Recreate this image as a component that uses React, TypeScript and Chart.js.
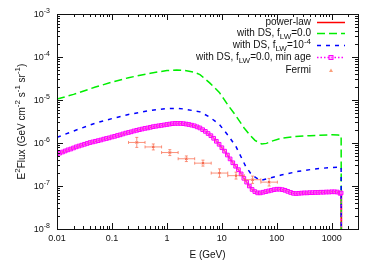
import React, { useEffect, useRef } from 'react';
import { Chart, registerables } from 'chart.js';
Chart.register(...registerables);

// ---- data ----
const minAgeE = [
  0.01, 0.0112, 0.0126, 0.0141, 0.0158, 0.0178, 0.02, 0.0224, 0.0251, 0.0282, 0.0316, 0.0355, 0.0398, 0.0447, 0.0501, 0.0562, 0.0631, 0.0708, 0.0794, 0.0891,
  0.1, 0.112, 0.126, 0.141, 0.158, 0.178, 0.2, 0.224, 0.251, 0.282, 0.316, 0.355, 0.398, 0.447, 0.501, 0.562, 0.631, 0.708, 0.794, 0.891,
  1, 1.12, 1.26, 1.41, 1.58, 1.78, 2, 2.24, 2.51, 2.82, 3.16, 3.55, 3.98, 4.47, 5.01, 5.62, 6.31, 7.08, 7.94, 8.91,
  10, 11.2, 12.6, 14.1, 15.8, 17.8, 20, 22.4, 25.1, 28.2, 31.6, 35.5, 39.8, 44.7, 50.1, 56.2, 63.1, 70.8, 79.4, 89.1,
  100, 112, 126, 141, 158, 178, 200, 224, 251, 282, 316, 355, 398, 447, 501, 562, 631, 708, 794, 891,
  1000, 1122, 1259, 1413, 1480, 1500,
];
const minAgeF = [
  5.5e-7, 5.82e-7, 6.17e-7, 6.53e-7, 6.92e-7, 7.24e-7, 7.67e-7, 8.13e-7, 8.51e-7, 8.91e-7,
  9.33e-7, 9.77e-7, 1.023e-6, 1.059e-6, 1.096e-6, 1.135e-6, 1.175e-6, 1.23e-6, 1.274e-6, 1.318e-6,
  1.38e-6, 1.429e-6, 1.496e-6, 1.549e-6, 1.622e-6, 1.698e-6, 1.758e-6, 1.82e-6, 1.905e-6, 1.972e-6,
  2.042e-6, 2.113e-6, 2.188e-6, 2.239e-6, 2.317e-6, 2.399e-6, 2.455e-6, 2.512e-6, 2.57e-6, 2.63e-6,
  2.692e-6, 2.754e-6, 2.818e-6, 2.851e-6, 2.851e-6, 2.851e-6, 2.818e-6, 2.754e-6, 2.692e-6, 2.6e-6,
  2.512e-6, 2.371e-6, 2.239e-6, 2.042e-6, 1.862e-6, 1.66e-6, 1.479e-6, 1.288e-6, 1.096e-6, 9.33e-7,
  7.76e-7, 6.46e-7, 5.25e-7, 4.27e-7, 3.47e-7, 2.88e-7, 2.4e-7, 1.91e-7, 1.51e-7, 1.23e-7,
  1.0e-7, 8.32e-8, 7.41e-8, 6.92e-8, 6.92e-8, 7.16e-8, 7.41e-8, 7.67e-8, 7.94e-8, 8.22e-8,
  8.41e-8, 8.41e-8, 8.22e-8, 7.94e-8, 7.5e-8, 7.08e-8, 6.76e-8, 6.68e-8, 6.76e-8, 6.84e-8,
  6.92e-8, 6.92e-8, 7.0e-8, 7.0e-8, 7.08e-8, 7.08e-8, 7.16e-8, 7.16e-8, 7.24e-8, 7.24e-8,
  7.33e-8, 7.33e-8, 7.24e-8, 6.76e-8, 6.9e-8, 1e-10,
];
const powerLawF = minAgeF;

const fLW0E = [0.01, 0.02, 0.05, 0.1, 0.2, 0.5, 1, 1.5, 2, 3, 4, 6, 9, 13, 18, 25, 32, 40, 53, 65, 80, 123, 200, 400, 1000, 1300, 1480, 1500];
const fLW0F = [1.05e-5, 1.35e-5, 2.0e-5, 2.6e-5, 3.3e-5, 4.2e-5, 4.85e-5, 5.0e-5, 4.9e-5, 4.5e-5, 3.9e-5, 2.5e-5, 1.5e-5, 7.5e-6, 4.3e-6, 2.3e-6, 1.55e-6, 1.15e-6, 9.5e-7, 9.8e-7, 1.1e-6, 1.3e-6, 1.4e-6, 1.48e-6, 1.55e-6, 1.54e-6, 1.5e-6, 1e-10];

const fLW4E = [0.01, 0.02, 0.05, 0.1, 0.2, 0.5, 1, 1.5, 2, 4, 6, 9, 13, 18, 27, 35, 50, 70, 120, 250, 500, 1000, 1480, 1500];
const fLW4F = [1.35e-6, 1.9e-6, 2.9e-6, 3.7e-6, 4.6e-6, 5.7e-6, 6.3e-6, 6.4e-6, 6.2e-6, 5.3e-6, 4.0e-6, 2.7e-6, 1.5e-6, 8.3e-7, 2.9e-7, 1.8e-7, 1.35e-7, 1.5e-7, 1.8e-7, 2.2e-7, 2.5e-7, 2.7e-7, 2.75e-7, 1e-10];

const fermiE = [0.283, 0.566, 1.13, 2.26, 4.53, 9.05, 18.1, 36.2, 72.4];
const fermiElo = [0.2, 0.4, 0.8, 1.6, 3.2, 6.4, 12.8, 25.6, 51.2];
const fermiEhi = [0.4, 0.8, 1.6, 3.2, 6.4, 12.8, 25.6, 51.2, 102.4];
const fermiF = [1.03e-6, 8.1e-7, 6.0e-7, 4.3e-7, 3.4e-7, 2.0e-7, 1.74e-7, 1.4e-7, 1.23e-7];
const fermiFlo = [7.9e-7, 6.9e-7, 5.1e-7, 3.7e-7, 2.9e-7, 1.6e-7, 1.45e-7, 1.15e-7, 1.0e-7];
const fermiFhi = [1.35e-6, 9.5e-7, 7.0e-7, 5.0e-7, 4.0e-7, 2.5e-7, 2.1e-7, 1.7e-7, 1.5e-7];

const xTickValues = [0.01, 0.1, 1, 10, 100, 1000];
const xTickLabels = ['0.01', '0.1', '1', '10', '100', '1000'];
const yTickExps = ['-8', '-7', '-6', '-5', '-4', '-3'];

const FAM = '"Liberation Sans", Arial, Helvetica, sans-serif';
const font = (s: number) => `${s}px ${FAM}`;

type Seg = { t: string; s?: 'sup' | 'sub' };

function segWidth(ctx: CanvasRenderingContext2D, segs: Seg[], size: number, small: number) {
  let w = 0;
  for (const g of segs) {
    ctx.font = font(g.s ? small : size);
    w += ctx.measureText(g.t).width;
  }
  return w;
}

function drawRich(ctx: CanvasRenderingContext2D, segs: Seg[], x: number, y: number, size: number, small: number, align: 'left' | 'right' | 'center') {
  const w = segWidth(ctx, segs, size, small);
  let cx = align === 'left' ? x : align === 'right' ? x - w : x - w / 2;
  ctx.textAlign = 'left';
  ctx.textBaseline = 'middle';
  for (const g of segs) {
    ctx.font = font(g.s ? small : size);
    const dy = g.s === 'sup' ? -size * 0.4 : g.s === 'sub' ? size * 0.32 : 0;
    ctx.fillText(g.t, cx, y + dy);
    cx += ctx.measureText(g.t).width;
  }
}

const decor = {
  id: 'decor',
  afterDatasetsDraw(chart: any) {
    const ctx: CanvasRenderingContext2D = chart.ctx;
    const xs = chart.scales.x;
    const ys = chart.scales.y;
    ctx.save();
    ctx.strokeStyle = 'rgba(250,110,80,0.75)';
    ctx.lineWidth = 1;
    for (let i = 0; i < fermiE.length; i++) {
      const px = xs.getPixelForValue(fermiE[i]);
      const py = ys.getPixelForValue(fermiF[i]);
      const x0 = xs.getPixelForValue(fermiElo[i]);
      const x1 = xs.getPixelForValue(fermiEhi[i]);
      const y0 = ys.getPixelForValue(fermiFlo[i]);
      const y1 = ys.getPixelForValue(fermiFhi[i]);
      ctx.beginPath();
      ctx.moveTo(x0, py); ctx.lineTo(x1, py);
      ctx.moveTo(px, y0); ctx.lineTo(px, y1);
      ctx.moveTo(x0, py - 1.5); ctx.lineTo(x0, py + 1.5);
      ctx.moveTo(x1, py - 1.5); ctx.lineTo(x1, py + 1.5);
      ctx.moveTo(px - 1.5, y0); ctx.lineTo(px + 1.5, y0);
      ctx.moveTo(px - 1.5, y1); ctx.lineTo(px + 1.5, y1);
      ctx.stroke();
    }
    ctx.restore();
  },
  afterDraw(chart: any) {
    const ctx: CanvasRenderingContext2D = chart.ctx;
    const xs = chart.scales.x;
    const ys = chart.scales.y;
    const a = chart.chartArea;
    ctx.save();
    // border
    ctx.strokeStyle = '#111';
    ctx.lineWidth = 1;
    ctx.strokeRect(Math.round(a.left) + 0.5, Math.round(a.top) + 0.5, Math.round(a.right - a.left), Math.round(a.bottom - a.top));
    // ticks
    ctx.beginPath();
    for (let d = -2; d <= 3; d++) {
      for (let m = 1; m <= 9; m++) {
        const v = m * Math.pow(10, d);
        if (v > 3000) continue;
        const px = Math.round(xs.getPixelForValue(v)) + 0.5;
        const len = m === 1 ? 6 : 3;
        ctx.moveTo(px, a.bottom); ctx.lineTo(px, a.bottom - len);
        ctx.moveTo(px, a.top); ctx.lineTo(px, a.top + len);
      }
    }
    for (let d = -8; d <= -3; d++) {
      for (let m = 1; m <= 9; m++) {
        if (d === -3 && m > 1) continue;
        const v = m * Math.pow(10, d);
        const py = Math.round(ys.getPixelForValue(v)) + 0.5;
        const len = m === 1 ? 6 : 3;
        ctx.moveTo(a.left, py); ctx.lineTo(a.left + len, py);
        ctx.moveTo(a.right, py); ctx.lineTo(a.right - len, py);
      }
    }
    ctx.stroke();
    // tick labels
    ctx.fillStyle = '#111';
    ctx.font = font(9);
    ctx.textAlign = 'center';
    ctx.textBaseline = 'middle';
    xTickValues.forEach((v, i) => {
      ctx.fillText(xTickLabels[i], xs.getPixelForValue(v), a.bottom + 10);
    });
    yTickExps.forEach((e) => {
      const py = ys.getPixelForValue(Math.pow(10, Number(e)));
      drawRich(ctx, [{ t: '10' }, { t: e, s: 'sup' }], a.left - 7, py + 1, 9, 7, 'right');
    });
    // axis titles
    drawRich(ctx, [{ t: 'E (GeV)' }], (a.left + a.right) / 2, 255, 10, 8, 'center');
    ctx.save();
    ctx.translate(22, (a.top + a.bottom) / 2);
    ctx.rotate(-Math.PI / 2);
    drawRich(ctx, [
      { t: 'E' }, { t: '2', s: 'sup' }, { t: 'Flux (GeV cm' }, { t: '-2', s: 'sup' },
      { t: ' s' }, { t: '-1', s: 'sup' }, { t: ' sr' }, { t: '-1', s: 'sup' }, { t: ')' },
    ], 0, 0, 10, 8, 'center');
    ctx.restore();
    // legend
    const tx = 311;
    const sx0 = 317, sx1 = 345, smid = 331;
    const rows = [22.5, 33.5, 45.5, 57.5, 70.5];
    drawRich(ctx, [{ t: 'power-law' }], tx, rows[0], 10, 8, 'right');
    drawRich(ctx, [{ t: 'with DS, f' }, { t: 'LW', s: 'sub' }, { t: '=0.0' }], tx, rows[1], 10, 8, 'right');
    drawRich(ctx, [{ t: 'with DS, f' }, { t: 'LW', s: 'sub' }, { t: '=10' }, { t: '-4', s: 'sup' }], tx, rows[2], 10, 8, 'right');
    drawRich(ctx, [{ t: 'with DS, f' }, { t: 'LW', s: 'sub' }, { t: '=0.0, min age' }], tx, rows[3], 10, 8, 'right');
    drawRich(ctx, [{ t: 'Fermi' }], tx, rows[4], 10, 8, 'right');
    const sample = (y: number, color: string, dash: number[], w: number) => {
      ctx.beginPath();
      ctx.setLineDash(dash);
      ctx.strokeStyle = color;
      ctx.lineWidth = w;
      ctx.moveTo(sx0, y); ctx.lineTo(sx1, y);
      ctx.stroke();
      ctx.setLineDash([]);
    };
    sample(rows[0], '#ff0000', [], 1.5);
    sample(rows[1], '#00ee00', [8, 4], 1.5);
    sample(rows[2], '#0000ff', [4, 5], 1.5);
    sample(rows[3], '#ff00ff', [1.5, 2], 1.5);
    ctx.fillStyle = 'rgba(255,140,255,0.6)';
    ctx.strokeStyle = '#ff00ff';
    ctx.lineWidth = 1;
    ctx.fillRect(smid - 2, rows[3] - 2, 4, 4);
    ctx.strokeRect(smid - 2, rows[3] - 2, 4, 4);
    ctx.fillStyle = 'rgba(250,150,110,0.9)';
    ctx.beginPath();
    ctx.moveTo(smid, rows[4] - 2);
    ctx.lineTo(smid + 2, rows[4] + 1.5);
    ctx.lineTo(smid - 2, rows[4] + 1.5);
    ctx.closePath();
    ctx.fill();
    ctx.restore();
  },
};

const pts = (xsArr: number[], ysArr: number[]) => xsArr.map((x, i) => ({ x, y: ysArr[i] }));

export default function App() {
  const ref = useRef<HTMLCanvasElement>(null);
  useEffect(() => {
    const canvas = ref.current!;
    const chart = new Chart(canvas, {
      type: 'line',
      data: {
        datasets: [
          {
            label: 'Fermi',
            data: pts(fermiE, fermiF),
            showLine: false,
            pointStyle: 'crossRot',
            pointRadius: 1.5,
            pointBorderColor: 'rgb(235,70,40)',
            pointBorderWidth: 1,
          } as any,
          {
            label: 'with DS, fLW=0.0, min age',
            data: pts(minAgeE, minAgeF),
            borderColor: '#ff00ff',
            borderWidth: 1,
            borderDash: [1.5, 2],
            pointStyle: 'rect',
            pointRadius: 2.6,
            pointBorderWidth: 1,
            pointBorderColor: '#ff00ff',
            pointBackgroundColor: 'rgba(255,120,255,0.6)',
          } as any,
          {
            label: 'with DS, fLW=1e-4',
            data: pts(fLW4E, fLW4F),
            borderColor: '#0000ff',
            borderWidth: 1.5,
            borderDash: [4, 5],
            pointRadius: 0,
          },
          {
            label: 'with DS, fLW=0.0',
            data: pts(fLW0E, fLW0F),
            borderColor: '#00ee00',
            borderWidth: 1.5,
            borderDash: [8, 4],
            pointRadius: 0,
          },
          {
            label: 'power-law',
            data: pts(minAgeE, powerLawF),
            borderColor: '#ff0000',
            borderWidth: 1.5,
            pointRadius: 0,
          },
        ],
      },
      options: {
        responsive: false,
        animation: false,
        events: [],
        layout: { padding: { left: 57, top: 14, right: 16, bottom: 33 } },
        scales: {
          x: { type: 'logarithmic', min: 0.01, max: 3000, display: false },
          y: { type: 'logarithmic', min: 1e-8, max: 1e-3, display: false },
        },
        plugins: { legend: { display: false }, tooltip: { enabled: false } },
      },
      plugins: [decor as any],
    });
    return () => chart.destroy();
  }, []);
  return (
    <div style={{ position: 'absolute', left: 0, top: 0, width: 374, height: 262, background: '#fff' }}>
      <canvas ref={ref} width={374} height={262} style={{ width: 374, height: 262, display: 'block' }} />
    </div>
  );
}
